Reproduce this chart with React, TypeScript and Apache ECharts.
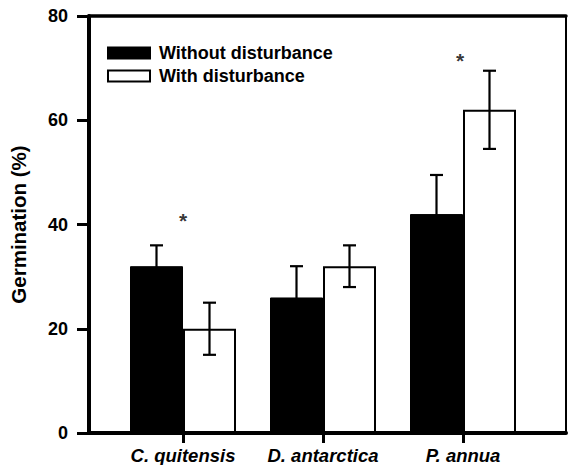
import React, { useEffect, useRef } from "react";
import * as echarts from "echarts";

const categories = ["C. quitensis", "D. antarctica", "P. annua"];
const seriesNames = ["Without disturbance", "With disturbance"];
const withoutMean = [32, 26, 42];
const withoutErr = [4, 6, 7.5];
const withMean = [20, 32, 62];
const withErr = [5, 4, 7.5];
// asterisk markers: [category index, y value]
const asteriskPoints = [
  [0, 40.7],
  [2, 71.4],
];
const yTicks = { min: 0, max: 80, interval: 20 };

const FONT = "'Liberation Sans', Arial, Helvetica, sans-serif";

export default function App() {
  const ref = useRef<HTMLDivElement>(null);

  useEffect(() => {
    if (!ref.current) return;
    const chart = echarts.init(ref.current, null, { renderer: "svg" });

    const errData = (means: number[], errs: number[]) =>
      means.map((m, i) => [i, m - errs[i], m + errs[i]]);

    const makeErrRender = (offset: number) => (params: any, api: any) => {
      const idx = api.value(0);
      const lo = api.coord([idx, api.value(1)]);
      const hi = api.coord([idx, api.value(2)]);
      const x = lo[0] + offset;
      const cap = 6.5;
      const style = { stroke: "#000", lineWidth: 2.2 };
      return {
        type: "group",
        children: [
          { type: "line", shape: { x1: x, y1: lo[1], x2: x, y2: hi[1] }, style },
          { type: "line", shape: { x1: x - cap, y1: hi[1], x2: x + cap, y2: hi[1] }, style },
          { type: "line", shape: { x1: x - cap, y1: lo[1], x2: x + cap, y2: lo[1] }, style },
        ],
      };
    };

    const option: any = {
      animation: false,
      backgroundColor: "#fff",
      textStyle: { fontFamily: FONT },
      grid: [
        { left: 113, right: 36, top: 16, bottom: 32, containLabel: false },
        {
          left: 80,
          right: 3,
          top: 16,
          bottom: 32,
          show: true,
          borderColor: "#000",
          borderWidth: 2,
          backgroundColor: "transparent",
        },
      ],
      legend: {
        orient: "vertical",
        left: 102,
        top: 39,
        itemWidth: 42,
        itemHeight: 11,
        itemGap: 5,
        icon: "rect",
        data: seriesNames,
        textStyle: {
          fontFamily: FONT,
          fontSize: 18,
          fontWeight: "bold",
          color: "#000",
          lineHeight: 18,
          padding: [0, 0, 0, 4],
        },
      },
      xAxis: [
        {
          type: "category",
          gridIndex: 0,
          data: categories,
          axisLine: { show: false },
          axisTick: {
            show: true,
            alignWithLabel: true,
            length: 10,
            lineStyle: { color: "#000", width: 3 },
          },
          axisLabel: {
            interval: 0,
            margin: 13,
            fontFamily: FONT,
            fontSize: 18.5,
            fontWeight: "bold",
            fontStyle: "italic",
            color: "#000",
          },
          splitLine: { show: false },
        },
        {
          type: "value",
          gridIndex: 1,
          min: 0,
          max: 1,
          position: "bottom",
          axisLine: { show: true, onZero: false, lineStyle: { color: "#000", width: 4 } },
          axisTick: { show: false },
          axisLabel: { show: false },
          splitLine: { show: false },
        },
        {
          type: "value",
          gridIndex: 1,
          min: 0,
          max: 1,
          position: "top",
          axisLine: { show: true, onZero: false, lineStyle: { color: "#000", width: 3.5 } },
          axisTick: { show: false },
          axisLabel: { show: false },
          splitLine: { show: false },
        },
      ],
      yAxis: [
        {
          type: "value",
          gridIndex: 0,
          min: yTicks.min,
          max: yTicks.max,
          interval: yTicks.interval,
          show: false,
        },
        {
          type: "value",
          gridIndex: 1,
          min: yTicks.min,
          max: yTicks.max,
          interval: yTicks.interval,
          position: "left",
          name: "Germination (%)",
          nameLocation: "middle",
          nameRotate: 90,
          nameGap: 60,
          nameTextStyle: {
            fontFamily: FONT,
            fontSize: 20.5,
            fontWeight: "bold",
            color: "#000",
          },
          axisLine: { show: true, onZero: false, lineStyle: { color: "#000", width: 4 } },
          axisTick: { show: true, inside: false, length: 12, lineStyle: { color: "#000", width: 3 } },
          axisLabel: {
            show: true,
            inside: false,
            margin: 21,
            fontFamily: FONT,
            fontSize: 18,
            fontWeight: "bold",
            color: "#000",
          },
          splitLine: { show: false },
        },
      ],
      series: [
        {
          name: seriesNames[0],
          type: "bar",
          xAxisIndex: 0,
          yAxisIndex: 0,
          data: withoutMean,
          barWidth: 53,
          barGap: "0%",
          itemStyle: { color: "#000", borderColor: "#000", borderWidth: 1 },
        },
        {
          name: seriesNames[1],
          type: "bar",
          xAxisIndex: 0,
          yAxisIndex: 0,
          data: withMean,
          barWidth: 53,
          barGap: "0%",
          itemStyle: { color: "#fff", borderColor: "#000", borderWidth: 2 },
        },
        {
          type: "custom",
          xAxisIndex: 0,
          yAxisIndex: 0,
          renderItem: makeErrRender(-26.5),
          data: errData(withoutMean, withoutErr),
          z: 5,
          silent: true,
        },
        {
          type: "custom",
          xAxisIndex: 0,
          yAxisIndex: 0,
          renderItem: makeErrRender(26.5),
          data: errData(withMean, withErr),
          z: 5,
          silent: true,
        },
        {
          type: "scatter",
          xAxisIndex: 0,
          yAxisIndex: 0,
          symbolSize: 0,
          data: asteriskPoints.map((p, i) => ({
            value: p,
            label: i === 1 ? { offset: [-3, 0] } : {},
          })),
          label: {
            show: true,
            position: "inside",
            formatter: "*",
            fontFamily: FONT,
            fontSize: 21,
            fontWeight: "bold",
            color: "#000",
          },
          z: 6,
          silent: true,
        },
      ],
    };

    chart.setOption(option);
    return () => chart.dispose();
  }, []);

  return (
    <div
      ref={ref}
      style={{ position: "fixed", left: 0, top: 0, width: 569, height: 465, background: "#fff" }}
    />
  );
}
